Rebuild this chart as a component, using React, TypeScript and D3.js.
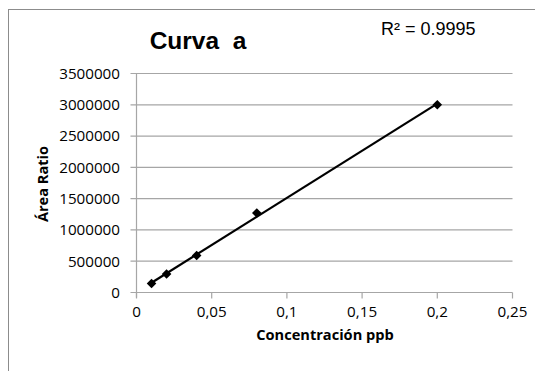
import React from "react";
import * as d3 from "d3";

const concentrations = [0.01, 0.02, 0.04, 0.08, 0.2];
const areaRatios = [144000, 295000, 592000, 1270000, 3000000];
const xTicks = [0, 0.05, 0.1, 0.15, 0.2, 0.25];
const yTicks = [0, 500000, 1000000, 1500000, 2000000, 2500000, 3000000, 3500000];
const titleText = "Curva  a";
const r2Text = "R² = 0.9995";
const xTitle = "Concentración ppb";
const yTitle = "Área Ratio";

export default function App() {
  const W = 535, H = 371;
  const x = d3.scaleLinear().domain([0, 0.25]).range([136.5, 512.5]);
  const y = d3.scaleLinear().domain([0, 3500000]).range([292.5, 73.5]);

  // linear regression trendline
  const n = concentrations.length;
  const mx = d3.mean(concentrations) as number;
  const my = d3.mean(areaRatios) as number;
  let sxy = 0, sxx = 0;
  for (let i = 0; i < n; i++) {
    sxy += (concentrations[i] - mx) * (areaRatios[i] - my);
    sxx += (concentrations[i] - mx) ** 2;
  }
  const slope = sxy / sxx;
  const icpt = my - slope * mx;
  const xMin = d3.min(concentrations) as number;
  const xMax = d3.max(concentrations) as number;
  const line = d3.line<number>().x((d) => x(d)).y((d) => y(slope * d + icpt));
  const marker = d3.symbol().type(d3.symbolSquare).size(46)();

  const tickFont = "'Open Sans', 'DejaVu Sans', sans-serif";
  const fmtX = (v: number) => (v === 0 ? "0" : String(v).replace(".", ","));

  return (
    <svg
      width={W}
      height={H}
      style={{ position: "absolute", left: 0, top: 0, background: "#fff" }}
    >
      <rect x={0} y={0} width={W} height={H} fill="#fff" />
      <rect x={8.5} y={9.5} width={W + 10} height={H + 10} fill="none" stroke="#8c8c8c" strokeWidth={1} />
      {yTicks.map((t) => (
        <g key={"y" + t}>
          <line x1={x(0) - 6} x2={x(0.25)} y1={y(t)} y2={y(t)} stroke="#a6a6a6" strokeWidth={1.2} />
          <text
            x={120}
            y={y(t)}
            dy="0.35em"
            textAnchor="end"
            fontFamily={tickFont}
            fontSize={15.2}
            fill="#000"
          >
            {t}
          </text>
        </g>
      ))}
      <line x1={x(0)} x2={x(0)} y1={y(3500000)} y2={y(0) + 5} stroke="#a6a6a6" strokeWidth={1.2} />
      {xTicks.map((t) => (
        <g key={"x" + t}>
          <line x1={x(t)} x2={x(t)} y1={y(0)} y2={y(0) + 6} stroke="#a6a6a6" strokeWidth={1.2} />
          <text
            x={x(t)}
            y={312}
            dy="0.35em"
            textAnchor="middle"
            fontFamily={tickFont}
            fontSize={15.2}
            fill="#000"
          >
            {fmtX(t)}
          </text>
        </g>
      ))}
      <path d={line([xMin, xMax]) || ""} fill="none" stroke="#000" strokeWidth={2.2} />
      {concentrations.map((c, i) => (
        <path
          key={"m" + i}
          d={marker}
          transform={`translate(${x(c)},${y(areaRatios[i])}) rotate(45)`}
          fill="#000"
        />
      ))}
      <text
        x={198}
        y={49}
        textAnchor="middle"
        fontFamily="'Liberation Sans', Arial, sans-serif"
        fontWeight="bold"
        fontSize={24.5}
        style={{ whiteSpace: "pre" }}
      >
        {titleText}
      </text>
      <text
        x={381}
        y={35}
        fontFamily="'Liberation Sans', Arial, sans-serif"
        fontSize={18}
      >
        {r2Text}
      </text>
      <text
        x={325}
        y={335}
        dy="0.35em"
        textAnchor="middle"
        fontFamily={tickFont}
        fontWeight="bold"
        fontSize={14.6}
      >
        {xTitle}
      </text>
      <text
        transform={`translate(43,184) rotate(-90)`}
        dy="0.35em"
        textAnchor="middle"
        fontFamily={tickFont}
        fontWeight="bold"
        fontSize={14.6}
      >
        {yTitle}
      </text>
    </svg>
  );
}
